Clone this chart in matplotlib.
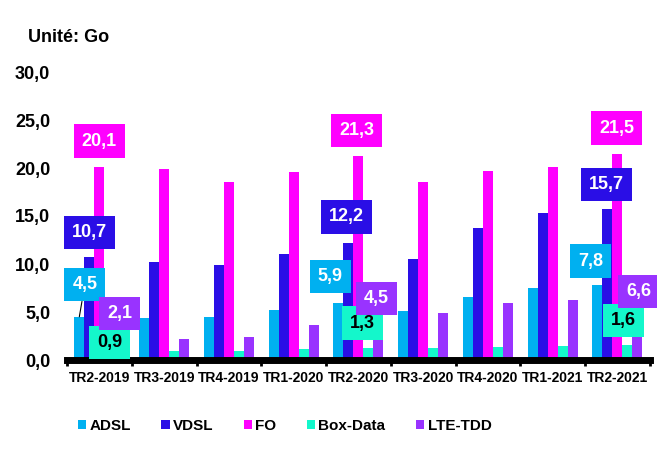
import matplotlib.pyplot as plt
import numpy as np

categories = ['TR2-2019', 'TR3-2019', 'TR4-2019', 'TR1-2020', 'TR2-2020',
              'TR3-2020', 'TR4-2020', 'TR1-2021', 'TR2-2021']
adsl = [4.5, 4.4, 4.5, 5.2, 5.9, 5.1, 6.6, 7.5, 7.8]
vdsl = [10.7, 10.2, 9.9, 11.0, 12.2, 10.5, 13.8, 15.3, 15.7]
fo = [20.1, 19.9, 18.5, 19.6, 21.3, 18.5, 19.7, 20.1, 21.5]
box_data = [0.9, 0.9, 0.9, 1.1, 1.3, 1.2, 1.4, 1.5, 1.6]
lte_tdd = [2.1, 2.2, 2.4, 3.6, 4.5, 4.9, 5.9, 6.3, 6.6]

series_names = ['ADSL', 'VDSL', 'FO', 'Box-Data', 'LTE-TDD']
series_vals = [adsl, vdsl, fo, box_data, lte_tdd]
colors = ['#00B0F0', '#2A0EE6', '#FF00FF', '#14F7CB', '#9933FF']
text_colors = ['white', 'white', 'white', 'black', 'white']

# which points get a value label, and where (pixel offset from bar top)
labeled = [0, 4, 8]
label_offsets = {
    'ADSL': [(5.5, 32), (-8, 27), (-7, 24)],
    'VDSL': [(0, 25), (-2, 26), (-1, 25)],
    'FO': [(0, 26), (-2, 25), (-1, 25.5)],
    'Box-Data': [(0, 9), (-6, 24.5), (-4, 24.5)],
    'LTE-TDD': [(0, 26), (-2, 18), (1, 5.5)],
}

plt.rcParams['font.family'] = ['Liberation Sans', 'DejaVu Sans']
plt.rcParams['font.weight'] = 'bold'


def fr(v):
    return f'{v:.1f}'.replace('.', ',')


fig, ax = plt.subplots(figsize=(6.57, 4.5), dpi=100)
fig.subplots_adjust(left=0.102, right=0.989, bottom=0.2, top=0.84)

x = np.arange(len(categories))
w = 0.155
for k in range(len(series_names)):
    ax.bar(x + (k - 2) * w, series_vals[k], w, color=colors[k],
           label=series_names[k], zorder=1)

# labels: draw Box-Data before LTE-TDD so purple sits on top
for k in range(len(series_names)):
    name = series_names[k]
    for j, idx in enumerate(labeled):
        v = series_vals[k][idx]
        dx, dy = label_offsets[name][j]
        arrow = None
        if name == 'ADSL' and idx == 0:
            arrow = dict(arrowstyle='-', color='black', lw=0.8, shrinkA=0, shrinkB=0)
        ax.annotate(fr(v), xy=(x[idx] + (k - 2) * w, v), xytext=(dx, dy),
                    textcoords='offset pixels', ha='center', va='center',
                    fontsize=13, fontweight='bold', color=text_colors[k],
                    bbox=dict(boxstyle='square,pad=0.45', fc=colors[k], ec='none'),
                    arrowprops=arrow, zorder=5, annotation_clip=False)

ax.set_xlim(-0.5, 8.5)
ax.set_ylim(0, 30)
ax.set_yticks(np.arange(0, 31, 5))
ax.set_yticklabels([fr(t) for t in np.arange(0, 31, 5)], fontsize=13, fontweight='bold')
ax.set_xticks(x)
ax.set_xticklabels(categories, fontsize=10, fontweight='bold')
ax.set_xticks(np.arange(-0.5, 9, 1), minor=True)
ax.tick_params(axis='y', length=0, pad=12)
ax.tick_params(axis='x', which='major', length=0, pad=8)
ax.tick_params(axis='x', which='minor', length=4, width=2, direction='out')

for s in ['top', 'right', 'left']:
    ax.spines[s].set_visible(False)
ax.spines['bottom'].set_linewidth(5)
ax.spines['bottom'].set_color('black')

fig.text(28 / 657, 1 - 38 / 450, 'Unité: Go', fontsize=13, fontweight='bold',
         ha='left', va='center')

fig.legend(loc='center left', bbox_to_anchor=(78 / 657, 1 - 426 / 450), ncol=5,
           frameon=False, fontsize=11, handlelength=0.55, handleheight=0.55,
           handletextpad=0.2, columnspacing=2.0, borderpad=0, borderaxespad=0)

plt.savefig('out.png', dpi=100)
